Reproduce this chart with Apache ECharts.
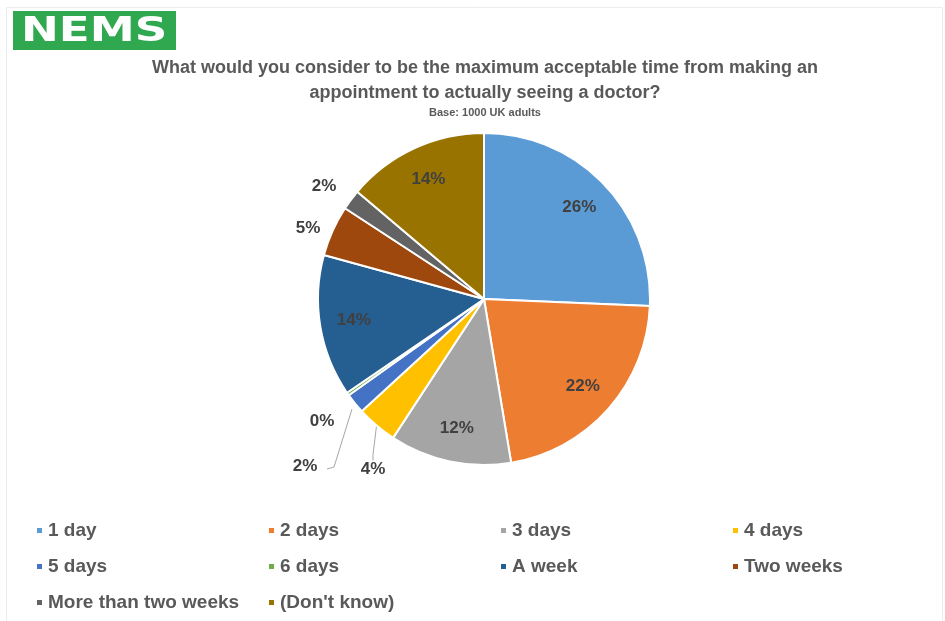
<!DOCTYPE html>
<html>
<head>
<meta charset="utf-8">
<script src="https://cdn.jsdelivr.net/npm/echarts@6/dist/echarts.min.js"></script>
<style>
  html, body { margin: 0; padding: 0; background: #fff; }
  #chart { width: 945px; height: 621px; }
</style>
</head>
<body>
<div id="chart"></div>
<script>
const categories = ['1 day', '2 days', '3 days', '4 days', '5 days', '6 days', 'A week', 'Two weeks', 'More than two weeks', "(Don't know)"]
const shares = [26, 22, 12, 4, 2, 0.3, 14, 5, 2, 14]
const colors = ['#5b9bd5', '#ed7d31', '#a5a5a5', '#ffc000', '#4472c4', '#70ad47', '#255e91', '#9e480e', '#636363', '#997300']
// slices labelled outside the pie, everything else gets its label inside
const outsideLabels = [3, 4, 5, 7, 8]

const cx = 484, cy = 299, R = 166
// where the outside labels sit, relative to the pie centre
const labelSpots = {
  3: [-111, 170],
  4: [-179, 167],
  5: [-162, 122],
  7: [-176, -71],
  8: [-160, -113]
}
// the bent leader of the "5 days" label
const fiveDayLeader = [[-132, 110], [-150, 168], [-157, 170]]

const labelFont = { fontFamily: 'Liberation Sans', fontWeight: 'bold', fontSize: 17, color: '#404040' }
const pct = p => Math.round(p.value) + '%'

const chart = echarts.init(document.getElementById('chart'), null, { renderer: 'canvas' })

const pieData = categories.map((name, i) => ({
  name,
  value: shares[i],
  itemStyle: { color: colors[i] },
  label: { show: outsideLabels.includes(i) },
  labelLine: { show: i === 3 || i === 4, length: 12, length2: 6, lineStyle: { color: '#a6a6a6', width: 1 } }
}))

// transparent ring only used to push the inside labels out towards the rim
const ringData = categories.map((name, i) => ({
  name,
  value: shares[i],
  label: { show: !outsideLabels.includes(i) }
}))

chart.setOption({
  animation: false,
  backgroundColor: '#fff',
  graphic: [
    {
      type: 'rect', left: 4, top: 5,
      shape: { width: 936, height: 640 },
      style: { fill: 'none', stroke: '#ececec', lineWidth: 1 }
    },
    {
      type: 'rect', left: 13, top: 11,
      shape: { width: 163, height: 39 },
      style: { fill: '#2fa84f' }
    },
    {
      type: 'text', left: 21, top: 15,
      scaleX: 1.33,
      style: { text: 'NEMS', fill: '#fff', font: 'bold 34px "DejaVu Sans"' }
    }
  ],
  title: {
    text: 'What would you consider to be the maximum acceptable time from making an\nappointment to actually seeing a doctor?',
    subtext: 'Base: 1000 UK adults',
    left: 485,
    textAlign: 'center',
    top: 56,
    itemGap: 0,
    padding: 0,
    textStyle: { fontFamily: 'Liberation Sans', fontWeight: 'bold', fontSize: 18, lineHeight: 25, color: '#595959' },
    subtextStyle: { fontFamily: 'Liberation Sans', fontWeight: 'bold', fontSize: 11, lineHeight: 14, color: '#595959' }
  },
  legend: {
    left: 35,
    top: 521,
    width: 935,
    padding: 0,
    itemWidth: 7,
    itemHeight: 7,
    itemGap: 17,
    icon: 'rect',
    data: categories,
    formatter: '{t|{name}}',
    textStyle: {
      rich: {
        t: { fontFamily: 'Liberation Sans', fontWeight: 'bold', fontSize: 19, lineHeight: 18, color: '#595959', width: 202 }
      }
    }
  },
  series: [
    {
      type: 'pie',
      center: [cx, cy],
      radius: R,
      startAngle: 90,
      clockwise: true,
      avoidLabelOverlap: false,
      itemStyle: { borderColor: '#fff', borderWidth: 2 },
      label: Object.assign({ position: 'outside', formatter: pct }, labelFont),
      labelLayout: p => {
        const spot = labelSpots[p.dataIndex]
        if (!spot) return {}
        const layout = { x: cx + spot[0], y: cy + spot[1], align: 'center', verticalAlign: 'middle' }
        if (p.dataIndex === 4) layout.labelLinePoints = fiveDayLeader.map(d => [cx + d[0], cy + d[1]])
        return layout
      },
      emphasis: { disabled: true },
      data: pieData
    },
    {
      type: 'pie',
      center: [cx, cy],
      radius: [92, R],
      startAngle: 90,
      clockwise: true,
      silent: true,
      avoidLabelOverlap: false,
      itemStyle: { color: 'rgba(0,0,0,0)' },
      label: Object.assign({ position: 'inside', formatter: pct }, labelFont),
      labelLine: { show: false },
      emphasis: { disabled: true },
      data: ringData
    }
  ]
})
</script>
</body>
</html>
